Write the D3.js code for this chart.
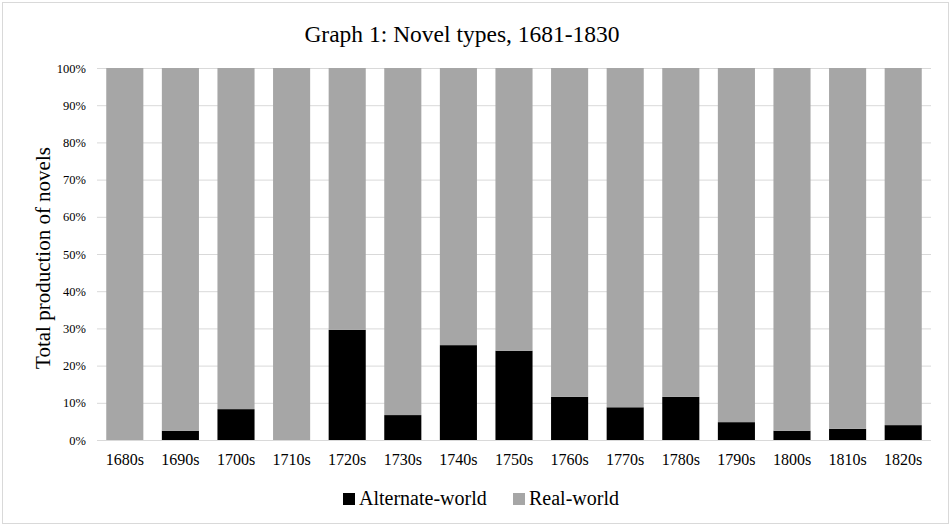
<!DOCTYPE html>
<html>
<head>
<meta charset="utf-8">
<script src="https://cdn.jsdelivr.net/npm/d3@7"></script>
<style>
  body { margin: 0; background: #fff; }
  svg text { font-family: 'Liberation Serif', 'Times New Roman', serif; fill: #000; }
</style>
</head>
<body>
<svg id="chart" width="950" height="527"></svg>
<script>
// decades on the x axis
var decades = ["1680s", "1690s", "1700s", "1710s", "1720s", "1730s", "1740s", "1750s",
               "1760s", "1770s", "1780s", "1790s", "1800s", "1810s", "1820s"];
// share of alternate-world novels (%), rest is real-world
var alternate = [0, 2.5, 8.3, 0, 29.6, 6.7, 25.5, 24.0, 11.6, 8.8, 11.6, 4.8, 2.5, 3.0, 4.0];
var real = alternate.map(function(a) { return 100 - a; });
var seriesNames = ["Alternate-world", "Real-world"];
var seriesColors = ["#000000", "#a6a6a6"];
var yTicks = [0, 10, 20, 30, 40, 50, 60, 70, 80, 90, 100];

var SERIF = "'Liberation Serif', 'Times New Roman', serif";
var svg = d3.select("#chart");

// outer frame
svg.append("rect")
    .attr("x", 2.5).attr("y", 2.5)
    .attr("width", 946).attr("height", 521)
    .attr("fill", "#fff")
    .attr("stroke", "#d9d9d9");

var margin = {left: 97, right: 19, top: 68, bottom: 87};
var w = 950 - margin.left - margin.right,
    h = 527 - margin.top - margin.bottom;

var g = svg.append("g").attr("transform", "translate(" + margin.left + "," + margin.top + ")");

var x = d3.scaleBand().domain(decades).range([0, w]).paddingInner(0.333).paddingOuter(0.1665);
var y = d3.scaleLinear().domain([0, 100]).range([h, 0]);

// gridlines
g.selectAll(".grid").data(yTicks).enter().append("line")
    .attr("x1", 0).attr("x2", w)
    .attr("y1", function(d) { return y(d) + 0.5; })
    .attr("y2", function(d) { return y(d) + 0.5; })
    .attr("stroke", "#d9d9d9")
    .attr("stroke-width", 1);

// stack
var rows = decades.map(function(d, i) {
    return {decade: d, "Alternate-world": alternate[i], "Real-world": real[i]};
});
var stack = d3.stack().keys(seriesNames)(rows);

g.selectAll(".layer").data(stack).enter().append("g")
    .attr("fill", function(d, i) { return seriesColors[i]; })
  .selectAll("rect").data(function(d) { return d; }).enter().append("rect")
    .attr("x", function(d) { return x(d.data.decade); })
    .attr("width", x.bandwidth())
    .attr("y", function(d) { return y(d[1]); })
    .attr("height", function(d) { return y(d[0]) - y(d[1]); });

// y tick labels
var yAxis = d3.axisLeft(y).tickValues(yTicks).tickSize(0).tickPadding(11)
    .tickFormat(function(d) { return d + "%"; });
var ya = g.append("g").call(yAxis).attr("font-family", SERIF).attr("font-size", 12.5);
ya.select(".domain").remove();
ya.selectAll("text").attr("fill", "#000");

// x tick labels
var xAxis = d3.axisBottom(x).tickSize(0).tickPadding(14);
var xa = g.append("g").attr("transform", "translate(0," + h + ")").call(xAxis)
    .attr("font-family", SERIF).attr("font-size", 16);
xa.select(".domain").remove();
xa.selectAll("text").attr("fill", "#000");

// title
svg.append("text")
    .attr("x", 462).attr("y", 42)
    .attr("text-anchor", "middle")
    .attr("font-family", SERIF)
    .attr("font-size", 23.5)
    .text("Graph 1: Novel types, 1681-1830");

// y axis title
svg.append("text")
    .attr("transform", "translate(50," + (margin.top + h / 2 + 4) + ") rotate(-90)")
    .attr("text-anchor", "middle")
    .attr("font-family", SERIF)
    .attr("font-size", 21)
    .text("Total production of novels");

// legend
var legend = svg.append("g").attr("transform", "translate(343,505)");
var lx = [0, 170];
seriesNames.forEach(function(name, i) {
    var item = legend.append("g").attr("transform", "translate(" + lx[i] + ",0)");
    item.append("rect")
        .attr("x", 0).attr("y", -12)
        .attr("width", 12).attr("height", 12)
        .attr("fill", seriesColors[i]);
    item.append("text")
        .attr("x", 16).attr("y", 0)
        .attr("font-family", SERIF)
        .attr("font-size", 20)
        .text(name);
});
</script>
</body>
</html>
